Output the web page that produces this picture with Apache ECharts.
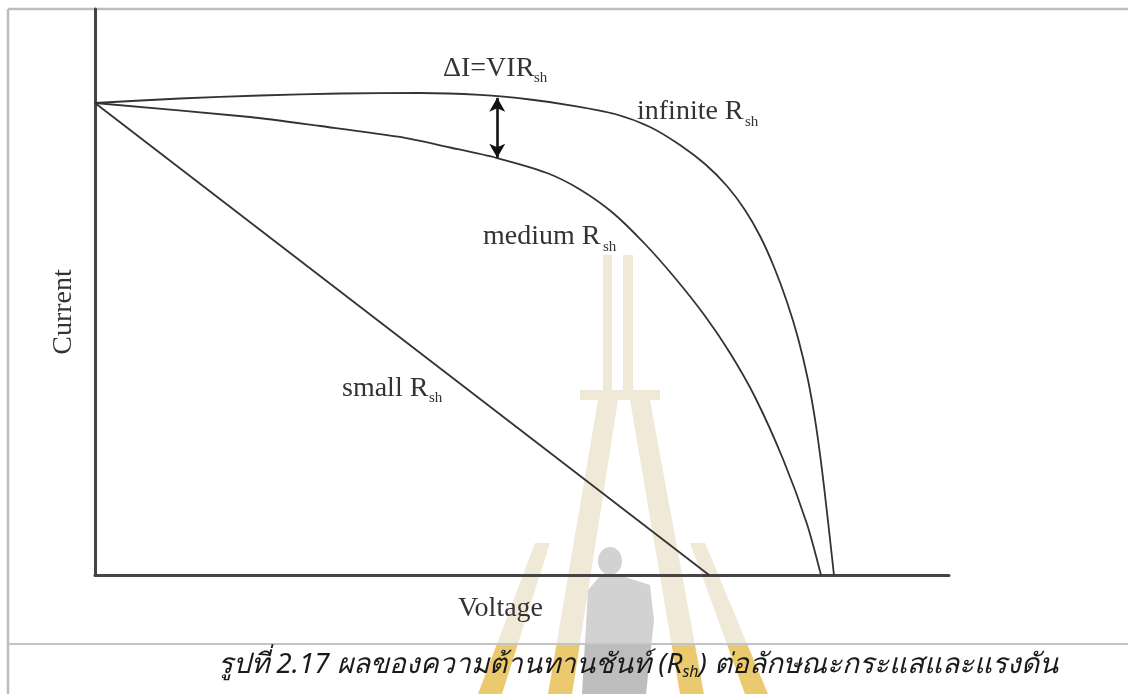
<!DOCTYPE html>
<html lang="th">
<head>
    <meta charset="utf-8" />
    <title>I-V Rsh</title>
    <script src="https://cdn.jsdelivr.net/npm/echarts@6/dist/echarts.min.js"></script>
    <style>
        html, body { margin: 0; padding: 0; background: #fff; }
        #box { width: 1128px; height: 694px; }
    </style>
</head>
<body>
<div id="box"></div>
<script>
    // ค่าที่อ่านจากภาพ (แรงดัน 0-100, กระแส 0-100)
    var infiniteV = [0, 9.95, 19.32, 28.69, 38.06, 45.08, 50.94, 56.21, 60.89, 64.99, 68.50, 71.43, 74.00, 76.11, 77.87, 79.51, 81.03, 82.32, 83.49, 84.43, 85.36, 86.53];
    var infiniteI = [83.39, 84.19, 84.72, 85.07, 85.16, 84.81, 84.01, 82.86, 81.45, 79.15, 75.97, 72.61, 68.73, 64.49, 59.89, 54.42, 48.23, 41.87, 34.45, 26.33, 15.72, 0];
    var mediumV = [0, 18.15, 26.35, 35.71, 41.57, 47.07, 52.93, 56.79, 60.66, 64.40, 67.92, 71.43, 74.36, 77.28, 80.56, 83.37, 85.01];
    var mediumI = [83.39, 80.92, 79.33, 77.39, 75.53, 73.67, 71.02, 68.11, 63.96, 58.48, 52.47, 45.76, 39.22, 31.45, 20.49, 9.01, 0];
    var smallV = [0, 71.9];
    var smallI = [83.39, 0];
    var deltaV = 47.1;          // ตำแหน่งลูกศร ΔI
    var deltaI = [84.3, 73.7];

    function pairs(xs, ys) {
        var out = [];
        for (var i = 0; i < xs.length; i++) out.push([xs[i], ys[i]]);
        return out;
    }

    var serif = '"Liberation Serif", "Times New Roman", serif';
    var ink = '#333';

    function label(x, y, s, size) {
        return { type: 'text', left: x, top: y, z: 10,
            style: { text: s, font: (size || 28) + 'px ' + serif, fill: ink } };
    }

    // ลายน้ำ: สีซีดด้านบน สีทองใต้เส้นแบ่ง y=644
    function poly(pts, c1, c2) {
        var top = 1e9, bot = -1e9;
        pts.forEach(function (p) { top = Math.min(top, p[1]); bot = Math.max(bot, p[1]); });
        var k = Math.max(0, Math.min(1, (644 - top) / (bot - top)));
        return { type: 'polygon', z: -5, silent: true, shape: { points: pts },
            style: { fill: { type: 'linear', x: 0, y: 0, x2: 0, y2: 1,
                colorStops: [{ offset: 0, color: c1 }, { offset: k, color: c1 },
                             { offset: k, color: c2 }, { offset: 1, color: c2 }] } } };
    }
    var pale = '#f1e9d8', gold = '#ebc96f';
    var grey1 = '#d2d2d2', grey2 = '#bdbdbd';

    var myChart = echarts.init(document.getElementById('box'));
    var option = {
        animation: false,
        grid: { left: 95, right: 179, top: 9, bottom: 119 },
        xAxis: {
            type: 'value', min: 0, max: 100,
            axisLine: { show: true, lineStyle: { color: '#444', width: 3 } },
            axisTick: { show: false }, axisLabel: { show: false }, splitLine: { show: false }
        },
        yAxis: {
            type: 'value', min: 0, max: 100,
            axisLine: { show: true, lineStyle: { color: '#444', width: 3 } },
            axisTick: { show: false }, axisLabel: { show: false }, splitLine: { show: false }
        },
        series: [
            {
                name: 'infinite', type: 'line', data: pairs(infiniteV, infiniteI),
                smooth: 0.25, showSymbol: false, lineStyle: { color: ink, width: 1.8 },
                markLine: {
                    silent: true, symbol: ['arrow', 'arrow'], symbolSize: [12, 14],
                    label: { show: false },
                    lineStyle: { color: '#111', width: 2.6, type: 'solid' },
                    data: [[{ coord: [deltaV, deltaI[0]] }, { coord: [deltaV, deltaI[1]] }]]
                }
            },
            {
                name: 'medium', type: 'line', data: pairs(mediumV, mediumI),
                smooth: 0.25, showSymbol: false, lineStyle: { color: ink, width: 1.8 }
            },
            {
                name: 'small', type: 'line', data: pairs(smallV, smallI),
                showSymbol: false, lineStyle: { color: ink, width: 1.8 }
            }
        ],
        graphic: [
            // กรอบ
            { type: 'line', shape: { x1: 8, y1: 9, x2: 1128, y2: 9 }, style: { stroke: '#bdbdbd', lineWidth: 2.5 } },
            { type: 'line', shape: { x1: 8, y1: 9, x2: 8, y2: 694 }, style: { stroke: '#bdbdbd', lineWidth: 2.5 } },
            { type: 'line', shape: { x1: 8, y1: 644, x2: 1128, y2: 644 }, style: { stroke: '#c4c4c4', lineWidth: 2 } },
            // ลายน้ำ
            poly([[603, 255], [612, 255], [612, 395], [603, 395]], pale, gold),
            poly([[623, 255], [633, 255], [633, 395], [623, 395]], pale, gold),
            poly([[580, 390], [660, 390], [660, 400], [580, 400]], pale, gold),
            poly([[598, 400], [618, 400], [572, 694], [548, 694]], pale, gold),
            poly([[630, 400], [650, 400], [704, 694], [680, 694]], pale, gold),
            poly([[535, 543], [550, 543], [502, 694], [478, 694]], pale, gold),
            poly([[690, 543], [705, 543], [768, 694], [745, 694]], pale, gold),
            { type: 'ellipse', z: -4, silent: true, shape: { cx: 610, cy: 561, rx: 12, ry: 14 }, style: { fill: grey1 } },
            poly([[600, 576], [622, 576], [650, 585], [654, 620], [646, 694], [582, 694], [588, 590]], grey1, grey2),
            // ข้อความ
            label(443, 55, 'ΔI=VIR'),
            label(534, 71, 'sh', 15),
            label(637, 98, 'infinite R'),
            label(745, 115, 'sh', 15),
            label(483, 223, 'medium R'),
            label(603, 240, 'sh', 15),
            label(342, 375, 'small R'),
            label(429, 391, 'sh', 15),
            label(458, 595, 'Voltage'),
            { type: 'text', x: 64, y: 312, rotation: Math.PI / 2, z: 10,
              style: { text: 'Current', font: '28px ' + serif, fill: ink, textAlign: 'center', textVerticalAlign: 'middle' } },
            { type: 'text', left: 218, top: 651, z: 10,
              style: {
                  rich: {
                      m: { font: 'italic 28px "Noto Sans", "DejaVu Sans", sans-serif', fill: '#1a1a1a' },
                      s: { font: 'italic 16px "Noto Sans", "DejaVu Sans", sans-serif', fill: '#1a1a1a', padding: [14, 0, 0, 0] }
                  },
                  text: '{m|รูปที่ 2.17 ผลของความต้านทานชันท์ (R}{s|sh}{m|) ต่อลักษณะกระแสและแรงดัน}'
              } }
        ]
    };
    myChart.setOption(option);
</script>
</body>
</html>
